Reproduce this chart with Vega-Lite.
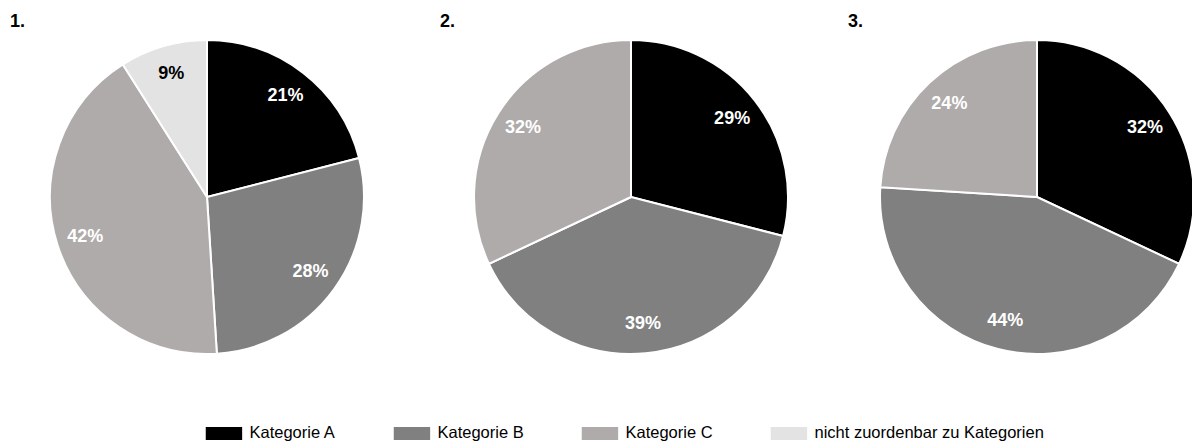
{
  "$schema": "https://vega.github.io/schema/vega-lite/v6.json",
  "background": "white",
  "padding": {"left": 0, "top": 13, "right": 0, "bottom": 0},
  "spacing": 6,
  "data": {
    "values": [
      {"pie": 1, "category": "Kategorie A", "share": 0.21},
      {"pie": 1, "category": "Kategorie B", "share": 0.28},
      {"pie": 1, "category": "Kategorie C", "share": 0.42},
      {"pie": 1, "category": "nicht zuordenbar zu Kategorien", "share": 0.09},
      {"pie": 2, "category": "Kategorie A", "share": 0.29},
      {"pie": 2, "category": "Kategorie B", "share": 0.39},
      {"pie": 2, "category": "Kategorie C", "share": 0.32},
      {"pie": 3, "category": "Kategorie A", "share": 0.32},
      {"pie": 3, "category": "Kategorie B", "share": 0.44},
      {"pie": 3, "category": "Kategorie C", "share": 0.24}
    ]
  },
  "hconcat": [
    {
      "width": 414,
      "height": 324,
      "title": {"text": "1.", "anchor": "start", "dx": 10},
      "transform": [{"filter": "datum.pie == 1"}],
      "layer": [
        {
          "mark": {"type": "arc", "outerRadius": 157, "stroke": "white", "strokeWidth": 2},
          "encoding": {
            "theta": {"field": "share", "type": "quantitative", "stack": true},
            "order": {"field": "category"},
            "color": {
              "field": "category",
              "type": "nominal",
              "scale": {
                "domain": ["Kategorie A", "Kategorie B", "Kategorie C", "nicht zuordenbar zu Kategorien"],
                "range": ["#000000", "#808080", "#afabaa", "#e3e3e3"]
              },
              "legend": {"title": " ", "titleOrient": "left", "titlePadding": 50}
            }
          }
        },
        {
          "mark": {"type": "text", "radius": 128, "fontSize": 18, "fontWeight": "bold"},
          "encoding": {
            "theta": {"field": "share", "type": "quantitative", "stack": true},
            "order": {"field": "category"},
            "text": {"field": "share", "format": ".0%"},
            "color": {
              "condition": {"test": "datum.category === 'nicht zuordenbar zu Kategorien'", "value": "black"},
              "value": "white"
            }
          }
        }
      ]
    },
    {
      "width": 422,
      "height": 324,
      "title": {"text": "2.", "anchor": "start", "dx": 20},
      "transform": [{"filter": "datum.pie == 2"}],
      "layer": [
        {
          "mark": {"type": "arc", "outerRadius": 157, "stroke": "white", "strokeWidth": 2},
          "encoding": {
            "theta": {"field": "share", "type": "quantitative", "stack": true},
            "order": {"field": "category"},
            "color": {
              "field": "category",
              "type": "nominal",
              "scale": {
                "domain": ["Kategorie A", "Kategorie B", "Kategorie C", "nicht zuordenbar zu Kategorien"],
                "range": ["#000000", "#808080", "#afabaa", "#e3e3e3"]
              }
            }
          }
        },
        {
          "mark": {"type": "text", "radius": 128, "fontSize": 18, "fontWeight": "bold"},
          "encoding": {
            "theta": {"field": "share", "type": "quantitative", "stack": true},
            "order": {"field": "category"},
            "text": {"field": "share", "format": ".0%"},
            "color": {"value": "white"}
          }
        }
      ]
    },
    {
      "width": 316,
      "height": 324,
      "title": {"text": "3.", "anchor": "start", "dx": -28},
      "transform": [{"filter": "datum.pie == 3"}],
      "layer": [
        {
          "mark": {"type": "arc", "outerRadius": 157, "stroke": "white", "strokeWidth": 2},
          "encoding": {
            "theta": {"field": "share", "type": "quantitative", "stack": true},
            "order": {"field": "category"},
            "color": {
              "field": "category",
              "type": "nominal",
              "scale": {
                "domain": ["Kategorie A", "Kategorie B", "Kategorie C", "nicht zuordenbar zu Kategorien"],
                "range": ["#000000", "#808080", "#afabaa", "#e3e3e3"]
              }
            }
          }
        },
        {
          "mark": {"type": "text", "radius": 128, "fontSize": 18, "fontWeight": "bold"},
          "encoding": {
            "theta": {"field": "share", "type": "quantitative", "stack": true},
            "order": {"field": "category"},
            "text": {"field": "share", "format": ".0%"},
            "color": {"value": "white"}
          }
        }
      ]
    }
  ],
  "config": {
    "font": "Liberation Sans",
    "view": {"stroke": null},
    "title": {"fontSize": 18, "fontWeight": "bold", "color": "black", "offset": 4},
    "legend": {
      "orient": "bottom",
      "offset": 66,
      "layout": {"bottom": {"anchor": "middle"}},
      "direction": "horizontal",
      "padding": 0,
      "symbolType": "M-1,-1H4.6V1H-1Z",
      "symbolSize": 169,
      "symbolStrokeWidth": 0,
      "symbolOpacity": 1,
      "labelFontSize": 16.5,
      "labelColor": "black",
      "labelOffset": 29,
      "labelLimit": 400,
      "columnPadding": 56
    }
  }
}
